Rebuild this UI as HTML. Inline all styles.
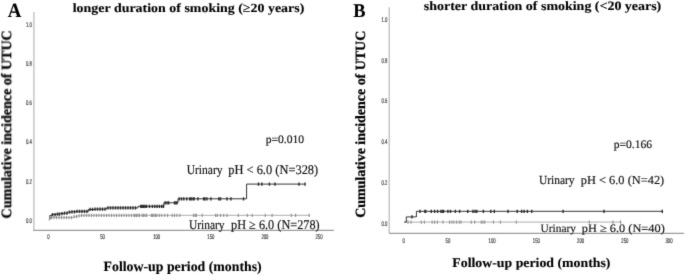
<!DOCTYPE html>
<html><head><meta charset="utf-8"><style>
html,body{margin:0;padding:0;background:#fff;}
body{width:685px;height:275px;overflow:hidden;}
svg{display:block;text-rendering:geometricPrecision;}
</style></head><body>
<svg width="685" height="275" viewBox="0 0 685 275">
<defs><filter id="bl" x="0" y="0" width="685" height="275" filterUnits="userSpaceOnUse" color-interpolation-filters="sRGB"><feConvolveMatrix order="3" kernelMatrix="0.0113 0.0838 0.0113 0.0838 0.6193 0.0838 0.0113 0.0838 0.0113" edgeMode="duplicate"/></filter></defs>
<g filter="url(#bl)">
<rect width="685" height="275" fill="#fff"/>
<path d="M33.9 12 V230.4" fill="none" stroke="#b8b8b8" stroke-width="1.2"/>
<path d="M33.3 230.4 H334" fill="none" stroke="#9c9c9c" stroke-width="1.2"/>
<text transform="translate(31.80,222.90) scale(0.62,1)" text-anchor="end" font-family='"Liberation Sans", sans-serif' font-size="6.8" fill="#3a3a3a" stroke="#3a3a3a" stroke-width="0.2">0.0</text>
<text transform="translate(31.80,183.62) scale(0.62,1)" text-anchor="end" font-family='"Liberation Sans", sans-serif' font-size="6.8" fill="#3a3a3a" stroke="#3a3a3a" stroke-width="0.2">0.2</text>
<text transform="translate(31.80,144.34) scale(0.62,1)" text-anchor="end" font-family='"Liberation Sans", sans-serif' font-size="6.8" fill="#3a3a3a" stroke="#3a3a3a" stroke-width="0.2">0.4</text>
<text transform="translate(31.80,105.06) scale(0.62,1)" text-anchor="end" font-family='"Liberation Sans", sans-serif' font-size="6.8" fill="#3a3a3a" stroke="#3a3a3a" stroke-width="0.2">0.6</text>
<text transform="translate(31.80,65.78) scale(0.62,1)" text-anchor="end" font-family='"Liberation Sans", sans-serif' font-size="6.8" fill="#3a3a3a" stroke="#3a3a3a" stroke-width="0.2">0.8</text>
<text transform="translate(31.80,26.50) scale(0.62,1)" text-anchor="end" font-family='"Liberation Sans", sans-serif' font-size="6.8" fill="#3a3a3a" stroke="#3a3a3a" stroke-width="0.2">1.0</text>
<text transform="translate(48.50,239.20) scale(0.62,1)" text-anchor="middle" font-family='"Liberation Sans", sans-serif' font-size="6.8" fill="#3a3a3a" stroke="#3a3a3a" stroke-width="0.2">0</text>
<text transform="translate(102.60,239.20) scale(0.62,1)" text-anchor="middle" font-family='"Liberation Sans", sans-serif' font-size="6.8" fill="#3a3a3a" stroke="#3a3a3a" stroke-width="0.2">50</text>
<text transform="translate(156.70,239.20) scale(0.62,1)" text-anchor="middle" font-family='"Liberation Sans", sans-serif' font-size="6.8" fill="#3a3a3a" stroke="#3a3a3a" stroke-width="0.2">100</text>
<text transform="translate(210.80,239.20) scale(0.62,1)" text-anchor="middle" font-family='"Liberation Sans", sans-serif' font-size="6.8" fill="#3a3a3a" stroke="#3a3a3a" stroke-width="0.2">150</text>
<text transform="translate(264.90,239.20) scale(0.62,1)" text-anchor="middle" font-family='"Liberation Sans", sans-serif' font-size="6.8" fill="#3a3a3a" stroke="#3a3a3a" stroke-width="0.2">200</text>
<text transform="translate(319.00,239.20) scale(0.62,1)" text-anchor="middle" font-family='"Liberation Sans", sans-serif' font-size="6.8" fill="#3a3a3a" stroke="#3a3a3a" stroke-width="0.2">250</text>
<path d="M48.5 220.4 L49.3 220.4 L49.3 219.0 L51.0 219.0 L51.0 217.6 L74.0 217.6 L74.0 216.6 L77.5 216.6 L77.5 215.8 L81.0 215.8 L81.0 215.3 L310.0 215.3" fill="none" stroke="#a8a8a8" stroke-width="0.95"/>
<path d="M49.9 219.0 L49.9 215.4 L52.0 215.4 L52.0 214.6 L56.0 214.6 L56.0 214.1 L60.0 214.1 L60.0 213.7 L64.0 213.7 L64.0 213.2 L67.5 213.2 L67.5 212.2 L71.0 212.2 L71.0 211.8 L76.0 211.8 L76.0 211.3 L88.5 211.3 L88.5 209.5 L95.0 209.5 L95.0 209.1 L106.5 209.1 L106.5 207.9 L138.0 207.9 L138.0 206.3 L163.8 206.3 L163.8 202.8 L178.0 202.8 L178.0 198.8 L246.6 198.8 L246.6 184.1 L305.0 184.1" fill="none" stroke="#2a2a2a" stroke-width="0.95"/>
<path d="M51.5 216.0v3.2M54.0 216.0v3.2M56.5 216.0v3.2M59.0 216.0v3.2M61.5 216.0v3.2M64.0 216.0v3.2M66.5 216.0v3.2M69.0 216.0v3.2M71.5 216.0v3.2M74.0 215.0v3.2M76.5 215.0v3.2M79.0 214.2v3.2M81.5 213.7v3.2M84.0 213.7v3.2M86.5 213.7v3.2M89.0 213.7v3.2M91.5 213.7v3.2M94.0 213.7v3.2M96.5 213.7v3.2M99.0 213.7v3.2M101.5 213.7v3.2M104.0 213.7v3.2M106.5 213.7v3.2M109.0 213.7v3.2M111.5 213.7v3.2M114.0 213.7v3.2M116.5 213.7v3.2M119.0 213.7v3.2M121.5 213.7v3.2M124.0 213.7v3.2M126.5 213.7v3.2M129.0 213.7v3.2M131.5 213.7v3.2M134.0 213.7v3.2M135.0 213.7v3.2M136.5 213.7v3.2M138.0 213.7v3.2M139.5 213.7v3.2M142.0 213.7v3.2M143.5 213.7v3.2M145.0 213.7v3.2M146.6 213.7v3.2M151.3 213.7v3.2M152.5 213.7v3.2M154.0 213.7v3.2M155.5 213.7v3.2M157.0 213.7v3.2M159.4 213.7v3.2M161.7 213.7v3.2M164.7 213.7v3.2M167.6 213.7v3.2M172.2 213.7v3.2M174.5 213.7v3.2M176.9 213.7v3.2M179.8 213.7v3.2M193.5 213.7v3.2M195.2 213.7v3.2M196.4 213.7v3.2M202.2 213.7v3.2M215.6 213.7v3.2M217.3 213.7v3.2M220.5 213.7v3.2M223.7 213.7v3.2M227.0 213.7v3.2M238.3 213.7v3.2M247.2 213.7v3.2M252.3 213.7v3.2M265.3 213.7v3.2M272.1 213.7v3.2M291.3 213.7v3.2M295.6 213.7v3.2M309.2 213.7v3.2" stroke="#8f8f8f" stroke-width="1.1"/>
<path d="M52.5 212.9v3.3M55.0 212.9v3.3M57.5 212.4v3.3M59.5 212.4v3.3M62.0 212.0v3.3M64.5 211.5v3.3M67.0 211.5v3.3M69.5 210.5v3.3M72.0 210.2v3.3M74.5 210.2v3.3M77.0 209.7v3.3M79.5 209.7v3.3M82.0 209.7v3.3M84.5 209.7v3.3M87.0 209.7v3.3M90.0 207.8v3.3M92.5 207.8v3.3M95.0 207.4v3.3M97.5 207.4v3.3M100.0 207.4v3.3M102.5 207.4v3.3M105.0 207.4v3.3M108.0 206.2v3.3M110.5 206.2v3.3M113.0 206.2v3.3M115.5 206.2v3.3M118.0 206.2v3.3M120.5 206.2v3.3M123.0 206.2v3.3M125.5 206.2v3.3M128.0 206.2v3.3M130.5 206.2v3.3M133.0 206.2v3.3M135.5 206.2v3.3M140.8 204.7v3.3M142.0 204.7v3.3M143.5 204.7v3.3M145.0 204.7v3.3M146.6 204.7v3.3M149.5 204.7v3.3M152.4 204.7v3.3M154.8 204.7v3.3M157.1 204.7v3.3M159.4 204.7v3.3M161.7 204.7v3.3M163.5 204.7v3.3M165.2 201.2v3.3M167.0 201.2v3.3M168.7 201.2v3.3M174.5 201.2v3.3M176.0 201.2v3.3M176.9 201.2v3.3M179.2 197.2v3.3M181.5 197.2v3.3M183.8 197.2v3.3M186.7 197.2v3.3M189.7 197.2v3.3M191.2 197.2v3.3M193.1 197.2v3.3M194.1 197.2v3.3M197.9 197.2v3.3M203.7 197.2v3.3M204.9 197.2v3.3M206.9 197.2v3.3M210.9 197.2v3.3M218.8 197.2v3.3M220.5 197.2v3.3M227.0 197.2v3.3M230.9 197.2v3.3M243.5 197.2v3.3M258.5 182.4v3.3M261.9 182.4v3.3M269.4 182.4v3.3M275.0 182.4v3.3M299.0 182.4v3.3M305.0 182.4v3.3" stroke="#2a2a2a" stroke-width="1.4"/>
<path d="M389.2 7.3 V233.3" fill="none" stroke="#b8b8b8" stroke-width="1.2"/>
<path d="M389.2 233.3 H684" fill="none" stroke="#9c9c9c" stroke-width="1.2"/>
<text transform="translate(387.40,225.50) scale(0.62,1)" text-anchor="end" font-family='"Liberation Sans", sans-serif' font-size="6.8" fill="#3a3a3a" stroke="#3a3a3a" stroke-width="0.2">0.0</text>
<text transform="translate(387.40,184.82) scale(0.62,1)" text-anchor="end" font-family='"Liberation Sans", sans-serif' font-size="6.8" fill="#3a3a3a" stroke="#3a3a3a" stroke-width="0.2">0.2</text>
<text transform="translate(387.40,144.14) scale(0.62,1)" text-anchor="end" font-family='"Liberation Sans", sans-serif' font-size="6.8" fill="#3a3a3a" stroke="#3a3a3a" stroke-width="0.2">0.4</text>
<text transform="translate(387.40,103.46) scale(0.62,1)" text-anchor="end" font-family='"Liberation Sans", sans-serif' font-size="6.8" fill="#3a3a3a" stroke="#3a3a3a" stroke-width="0.2">0.6</text>
<text transform="translate(387.40,62.78) scale(0.62,1)" text-anchor="end" font-family='"Liberation Sans", sans-serif' font-size="6.8" fill="#3a3a3a" stroke="#3a3a3a" stroke-width="0.2">0.8</text>
<text transform="translate(387.40,22.10) scale(0.62,1)" text-anchor="end" font-family='"Liberation Sans", sans-serif' font-size="6.8" fill="#3a3a3a" stroke="#3a3a3a" stroke-width="0.2">1.0</text>
<text transform="translate(403.70,242.60) scale(0.62,1)" text-anchor="middle" font-family='"Liberation Sans", sans-serif' font-size="6.8" fill="#3a3a3a" stroke="#3a3a3a" stroke-width="0.2">0</text>
<text transform="translate(447.92,242.60) scale(0.62,1)" text-anchor="middle" font-family='"Liberation Sans", sans-serif' font-size="6.8" fill="#3a3a3a" stroke="#3a3a3a" stroke-width="0.2">50</text>
<text transform="translate(492.14,242.60) scale(0.62,1)" text-anchor="middle" font-family='"Liberation Sans", sans-serif' font-size="6.8" fill="#3a3a3a" stroke="#3a3a3a" stroke-width="0.2">100</text>
<text transform="translate(536.36,242.60) scale(0.62,1)" text-anchor="middle" font-family='"Liberation Sans", sans-serif' font-size="6.8" fill="#3a3a3a" stroke="#3a3a3a" stroke-width="0.2">150</text>
<text transform="translate(580.58,242.60) scale(0.62,1)" text-anchor="middle" font-family='"Liberation Sans", sans-serif' font-size="6.8" fill="#3a3a3a" stroke="#3a3a3a" stroke-width="0.2">200</text>
<text transform="translate(624.80,242.60) scale(0.62,1)" text-anchor="middle" font-family='"Liberation Sans", sans-serif' font-size="6.8" fill="#3a3a3a" stroke="#3a3a3a" stroke-width="0.2">250</text>
<text transform="translate(669.02,242.60) scale(0.62,1)" text-anchor="middle" font-family='"Liberation Sans", sans-serif' font-size="6.8" fill="#3a3a3a" stroke="#3a3a3a" stroke-width="0.2">300</text>
<path d="M404.3 222.1 L621.5 222.1" fill="none" stroke="#a8a8a8" stroke-width="0.95"/>
<path d="M404.3 222.1 L406.3 222.1 L406.3 216.9 L416.4 216.9 L416.4 211.3 L662.6 211.3" fill="none" stroke="#2a2a2a" stroke-width="0.95"/>
<path d="M408.0 220.5v3.2M411.0 220.5v3.2M421.3 220.5v3.2M424.4 220.5v3.2M432.1 220.5v3.2M434.6 220.5v3.2M437.4 220.5v3.2M443.0 220.5v3.2M449.6 220.5v3.2M451.9 220.5v3.2M454.0 220.5v3.2M456.6 220.5v3.2M459.3 220.5v3.2M461.0 220.5v3.2M471.2 220.5v3.2M474.7 220.5v3.2M481.2 220.5v3.2M482.9 220.5v3.2M484.7 220.5v3.2M493.4 220.5v3.2M500.4 220.5v3.2M516.3 220.5v3.2M589.3 220.5v3.2M612.9 220.5v3.2M620.5 220.5v3.2" stroke="#8f8f8f" stroke-width="1.1"/>
<path d="M412.0 215.2v3.3M420.0 209.7v3.3M424.9 209.7v3.3M425.7 209.7v3.3M431.3 209.7v3.3M434.6 209.7v3.3M437.6 209.7v3.3M440.9 209.7v3.3M442.6 209.7v3.3M443.5 209.7v3.3M447.9 209.7v3.3M450.5 209.7v3.3M455.4 209.7v3.3M459.6 209.7v3.3M467.7 209.7v3.3M472.9 209.7v3.3M475.0 209.7v3.3M476.8 209.7v3.3M483.4 209.7v3.3M490.8 209.7v3.3M494.3 209.7v3.3M508.0 209.7v3.3M517.2 209.7v3.3M521.6 209.7v3.3M524.1 209.7v3.3M527.4 209.7v3.3M531.8 209.7v3.3M563.1 209.7v3.3M604.0 209.7v3.3M662.3 209.7v3.3" stroke="#2a2a2a" stroke-width="1.4"/>
<text transform="translate(7.66,17.30) scale(0.9429,0.9981)" font-family='"Liberation Serif", serif' font-weight="bold" font-size="20" fill="#000" stroke="#000" stroke-width="0.12" xml:space="preserve">A</text>
<text transform="translate(72.75,11.90) scale(0.9955,0.8923)" font-family='"Liberation Serif", serif' font-weight="bold" font-size="14" fill="#000" stroke="#000" stroke-width="0.12" xml:space="preserve">longer duration of smoking (≥20 years)</text>
<text transform="translate(265.65,142.80) scale(0.9947,0.9806)" font-family='"Liberation Serif", serif' font-weight="normal" font-size="11.7" fill="#111" stroke="#111" stroke-width="0.15" xml:space="preserve">p=0.010</text>
<text transform="translate(186.66,173.80) scale(0.9595,1.0921)" font-family='"Liberation Serif", serif' font-weight="normal" font-size="12" fill="#111" stroke="#111" stroke-width="0.15" xml:space="preserve">Urinary</text>
<text transform="translate(228.24,173.90) scale(1.0357,1.1048)" font-family='"Liberation Serif", serif' font-weight="normal" font-size="12" fill="#111" stroke="#111" stroke-width="0.15" xml:space="preserve">pH &lt; 6.0 (N=328)</text>
<text transform="translate(188.96,228.80) scale(0.9541,1.0921)" font-family='"Liberation Serif", serif' font-weight="normal" font-size="12" fill="#111" stroke="#111" stroke-width="0.15" xml:space="preserve">Urinary</text>
<text transform="translate(231.04,228.90) scale(1.0224,1.1048)" font-family='"Liberation Serif", serif' font-weight="normal" font-size="12" fill="#111" stroke="#111" stroke-width="0.15" xml:space="preserve">pH ≥ 6.0 (N=278)</text>
<text transform="translate(103.55,270.90) scale(0.9870,0.9973)" font-family='"Liberation Serif", serif' font-weight="bold" font-size="14" fill="#000" stroke="#000" stroke-width="0.12" xml:space="preserve">Follow-up period (months)</text>
<text transform="translate(353.35,17.20) scale(0.9212,0.9676)" font-family='"Liberation Serif", serif' font-weight="bold" font-size="20" fill="#000" stroke="#000" stroke-width="0.12" xml:space="preserve">B</text>
<text transform="translate(423.83,9.60) scale(0.9963,0.9132)" font-family='"Liberation Serif", serif' font-weight="bold" font-size="14" fill="#000" stroke="#000" stroke-width="0.12" xml:space="preserve">shorter duration of smoking (&lt;20 years)</text>
<text transform="translate(613.65,147.80) scale(0.9915,0.9806)" font-family='"Liberation Serif", serif' font-weight="normal" font-size="11.7" fill="#111" stroke="#111" stroke-width="0.15" xml:space="preserve">p=0.166</text>
<text transform="translate(538.96,183.70) scale(0.9541,1.0286)" font-family='"Liberation Serif", serif' font-weight="normal" font-size="12" fill="#111" stroke="#111" stroke-width="0.15" xml:space="preserve">Urinary</text>
<text transform="translate(580.74,183.60) scale(1.0321,1.0159)" font-family='"Liberation Serif", serif' font-weight="normal" font-size="12" fill="#111" stroke="#111" stroke-width="0.15" xml:space="preserve">pH &lt; 6.0 (N=42)</text>
<text transform="translate(540.46,231.90) scale(0.9514,0.9524)" font-family='"Liberation Serif", serif' font-weight="normal" font-size="12" fill="#111" stroke="#111" stroke-width="0.15" xml:space="preserve">Urinary</text>
<text transform="translate(581.84,231.90) scale(1.0279,0.9524)" font-family='"Liberation Serif", serif' font-weight="normal" font-size="12" fill="#111" stroke="#111" stroke-width="0.15" xml:space="preserve">pH ≥ 6.0 (N=40)</text>
<text transform="translate(452.35,267.30) scale(0.9864,0.9425)" font-family='"Liberation Serif", serif' font-weight="bold" font-size="14" fill="#000" stroke="#000" stroke-width="0.12" xml:space="preserve">Follow-up period (months)</text>
<text transform="translate(11.30,218.45) rotate(-90) scale(1.0022,1.0162)" font-family='"Liberation Serif", serif' font-weight="bold" font-size="14" fill="#000" stroke="#000" stroke-width="0.28" xml:space="preserve">Cumulative incidence of UTUC</text>
<text transform="translate(364.60,217.85) rotate(-90) scale(0.9962,1.0054)" font-family='"Liberation Serif", serif' font-weight="bold" font-size="14" fill="#000" stroke="#000" stroke-width="0.28" xml:space="preserve">Cumulative incidence of UTUC</text>
</g>
</svg>
</body></html>
